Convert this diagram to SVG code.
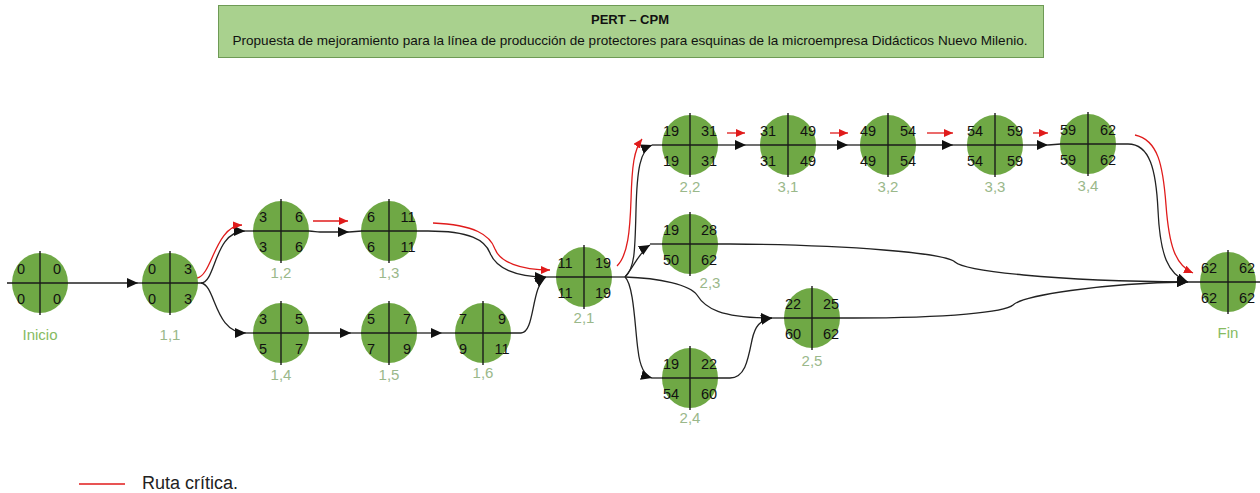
<svg xmlns="http://www.w3.org/2000/svg" width="1260" height="493" viewBox="0 0 1260 493">
  <style>
    .node ellipse { fill: #6fa845; }
    .node line { stroke: #1a1a1a; stroke-width: 1.4; }
    .num { font-family: "Liberation Sans", Arial, sans-serif; font-size: 14.5px; fill: #111; text-anchor: middle; }
    .lbl { font-family: "Liberation Sans", Arial, sans-serif; font-size: 15px; fill: #9ab88a; text-anchor: middle; }
    .lbl-end { font-family: "Liberation Sans", Arial, sans-serif; font-size: 15px; fill: #86bb62; text-anchor: middle; }
    .edge { fill: none; stroke: #222; stroke-width: 1.3; }
    .edge-arrow { marker-end: url(#ah); }
    .crit { fill: none; stroke: #e01b1b; stroke-width: 1.3; marker-end: url(#ahr); }
    .title { font-family: "Liberation Sans", Arial, sans-serif; font-size: 13px; fill: #111; text-anchor: middle; }
  </style>
  <defs>
    <marker id="ah" markerUnits="userSpaceOnUse" markerWidth="12" markerHeight="10" refX="11" refY="5" orient="auto">
      <path d="M0,0 L11,5 L0,10 Z" fill="#111"/>
    </marker>
    <marker id="ahr" markerUnits="userSpaceOnUse" markerWidth="10" markerHeight="8" refX="9" refY="4" orient="auto">
      <path d="M0,0 L9,4 L0,8 Z" fill="#e01b1b"/>
    </marker>
  </defs>

  <rect width="1260" height="493" fill="#ffffff"/>

  <!-- Title banner -->
  <g id="title">
    <rect x="218.5" y="5.5" width="825" height="52" fill="#a9d18e" stroke="#6e9a55" stroke-width="1"/>
    <text class="title" x="630" y="24" font-weight="bold">PERT – CPM</text>
    <text class="title" x="630" y="45" textLength="795" lengthAdjust="spacingAndGlyphs">Propuesta de mejoramiento para la línea de producción de protectores para esquinas de la microempresa Didácticos Nuevo Milenio.</text>
  </g>

  <!-- Connectors -->
  <g id="connectors">
    <!-- Inicio -> 1,1 -->
    <path class="edge edge-arrow" d="M68,283 H138"/>
    <line class="edge" x1="138" y1="283" x2="142" y2="283"/>
    <!-- 1,1 -> 1,2 -->
    <path class="edge edge-arrow" d="M198,283 H201 C216,283 214,231 245,231"/>
    <line class="edge" x1="245" y1="231" x2="254" y2="231"/>
    <path class="crit" d="M197,278 C212,276 215,226 242,225"/>
    <!-- 1,1 -> 1,4 -->
    <path class="edge edge-arrow" d="M201,283 C216,285 214,333 246,333"/>
    <line class="edge" x1="246" y1="333" x2="254" y2="333"/>
    <!-- 1,2 -> 1,3 -->
    <path class="edge edge-arrow" d="M309,231 C314,231 316,232 320,232 H349"/>
    <line class="edge" x1="349" y1="232" x2="362" y2="231"/>
    <path class="crit" d="M313,221 H348"/>
    <!-- 1,3 -> 2,1 -->
    <path class="edge edge-arrow" d="M417,231 H428 C470,231 485,240 490,253 C496,268 515,277 546,277"/>
    <line class="edge" x1="546" y1="277" x2="557" y2="277"/>
    <path class="crit" d="M433,223 C475,225 490,235 495,249 C500,262 520,270 550,270"/>
    <!-- 1,4 -> 1,5 -->
    <path class="edge edge-arrow" d="M309,333 H351"/>
    <line class="edge" x1="351" y1="333" x2="362" y2="333"/>
    <!-- 1,5 -> 1,6 -->
    <path class="edge edge-arrow" d="M417,333 H442"/>
    <line class="edge" x1="442" y1="333" x2="456" y2="333"/>
    <!-- 1,6 -> 2,1 -->
    <path class="edge edge-arrow" d="M511,333 H521 C535,333 531,286 546,277"/>
    <!-- 2,1 split point -->
    <line class="edge" x1="612" y1="277" x2="625" y2="277"/>
    <!-- 2,1 -> 2,2 -->
    <path class="edge edge-arrow" d="M625,277 C635,268 635,250 636,210 C637,170 640,150 652,145"/>
    <line class="edge" x1="652" y1="145" x2="663" y2="145"/>
    <path class="crit" d="M617,266 C628,255 630,230 631,200 C632,165 634,150 642,139"/>
    <!-- 2,1 -> 2,3 -->
    <path class="edge edge-arrow" d="M625,277 C633,268 640,251 650,245"/>
    <line class="edge" x1="650" y1="244" x2="663" y2="244"/>
    <!-- 2,1 -> 2,5 -->
    <path class="edge edge-arrow" d="M625,277 C660,278 690,285 697,295 C705,308 720,318 772,318"/>
    <line class="edge" x1="772" y1="318" x2="785" y2="318"/>
    <!-- 2,1 -> 2,4 -->
    <path class="edge edge-arrow" d="M625,277 C634,285 635,330 638,350 C640,368 645,376 652,378"/>
    <line class="edge" x1="652" y1="378" x2="663" y2="378"/>
    <!-- 2,4 -> 2,5 -->
    <path class="edge edge-arrow" d="M718,378 H730 C745,378 748,360 752,340 C755,326 760,320 772,318"/>
    <!-- 2,2 -> 3,1 -->
    <path class="edge edge-arrow" d="M718,145 H746"/>
    <line class="edge" x1="746" y1="145" x2="761" y2="145"/>
    <path class="crit" d="M727,133 H745"/>
    <!-- 3,1 -> 3,2 -->
    <path class="edge edge-arrow" d="M816,145 H848"/>
    <line class="edge" x1="848" y1="145" x2="861" y2="145"/>
    <path class="crit" d="M830,133 H848"/>
    <!-- 3,2 -> 3,3 -->
    <path class="edge edge-arrow" d="M916,145 H953"/>
    <line class="edge" x1="953" y1="145" x2="968" y2="145"/>
    <path class="crit" d="M927,133 H953"/>
    <!-- 3,3 -> 3,4 -->
    <path class="edge edge-arrow" d="M1023,145 H1048"/>
    <line class="edge" x1="1048" y1="145" x2="1061" y2="144"/>
    <path class="crit" d="M1033,133 H1048"/>
    <!-- 3,4 -> Fin -->
    <path class="edge edge-arrow" d="M1116,144 H1128 C1150,144 1156,170 1158,210 C1160,255 1168,275 1188,282"/>
    <path class="crit" d="M1135,135 C1158,140 1163,165 1166,205 C1169,245 1175,265 1193,273"/>
    <!-- 2,3 -> Fin -->
    <path class="edge edge-arrow" d="M718,244 H730 C850,245 945,253 955,262 C965,271 1050,281 1188,282"/>
    <!-- 2,5 -> Fin -->
    <path class="edge edge-arrow" d="M840,318 H853 C950,318 1005,312 1013,305 C1022,296 1100,283 1188,282"/>
    <!-- Fin tail -->
    <line class="edge" x1="1188" y1="282" x2="1260" y2="282"/>
  </g>

  <!-- Nodes -->
  <g id="node-inicio" class="node">
    <ellipse cx="40" cy="283" rx="28" ry="30"/>
    <line x1="7" y1="283" x2="68" y2="283"/><line x1="40" y1="251" x2="40" y2="315"/>
    <text class="num" x="21" y="274">0</text><text class="num" x="57" y="274">0</text>
    <text class="num" x="21" y="304">0</text><text class="num" x="57" y="304">0</text>
    <text class="lbl-end" x="40" y="340">Inicio</text>
  </g>
  <g id="node-1-1" class="node">
    <ellipse cx="170" cy="283" rx="28" ry="30"/>
    <line x1="142" y1="283" x2="198" y2="283"/><line x1="170" y1="251" x2="170" y2="315"/>
    <text class="num" x="152" y="274">0</text><text class="num" x="188" y="274">3</text>
    <text class="num" x="152" y="304">0</text><text class="num" x="188" y="304">3</text>
    <text class="lbl" x="170" y="340">1,1</text>
  </g>
  <g id="node-1-2" class="node">
    <ellipse cx="281" cy="231" rx="28" ry="30"/>
    <line x1="253" y1="231" x2="309" y2="231"/><line x1="281" y1="199" x2="281" y2="263"/>
    <text class="num" x="263" y="222">3</text><text class="num" x="299" y="222">6</text>
    <text class="num" x="263" y="252">3</text><text class="num" x="299" y="252">6</text>
    <text class="lbl" x="281" y="278">1,2</text>
  </g>
  <g id="node-1-3" class="node">
    <ellipse cx="389" cy="231" rx="28" ry="30"/>
    <line x1="361" y1="231" x2="417" y2="231"/><line x1="389" y1="199" x2="389" y2="263"/>
    <text class="num" x="371" y="222">6</text><text class="num" x="408" y="222">11</text>
    <text class="num" x="371" y="252">6</text><text class="num" x="408" y="252">11</text>
    <text class="lbl" x="389" y="278">1,3</text>
  </g>
  <g id="node-1-4" class="node">
    <ellipse cx="281" cy="333" rx="28" ry="30"/>
    <line x1="253" y1="333" x2="309" y2="333"/><line x1="281" y1="301" x2="281" y2="365"/>
    <text class="num" x="263" y="324">3</text><text class="num" x="299" y="324">5</text>
    <text class="num" x="263" y="354">5</text><text class="num" x="299" y="354">7</text>
    <text class="lbl" x="281" y="380">1,4</text>
  </g>
  <g id="node-1-5" class="node">
    <ellipse cx="389" cy="333" rx="28" ry="30"/>
    <line x1="361" y1="333" x2="417" y2="333"/><line x1="389" y1="301" x2="389" y2="365"/>
    <text class="num" x="371" y="324">5</text><text class="num" x="407" y="324">7</text>
    <text class="num" x="371" y="354">7</text><text class="num" x="407" y="354">9</text>
    <text class="lbl" x="389" y="380">1,5</text>
  </g>
  <g id="node-1-6" class="node">
    <ellipse cx="483" cy="333" rx="28" ry="30"/>
    <line x1="455" y1="333" x2="511" y2="333"/><line x1="483" y1="301" x2="483" y2="365"/>
    <text class="num" x="463" y="324">7</text><text class="num" x="502" y="324">9</text>
    <text class="num" x="463" y="354">9</text><text class="num" x="502" y="354">11</text>
    <text class="lbl" x="483" y="378">1,6</text>
  </g>
  <g id="node-2-1" class="node">
    <ellipse cx="584" cy="277" rx="28" ry="30"/>
    <line x1="556" y1="277" x2="612" y2="277"/><line x1="584" y1="245" x2="584" y2="309"/>
    <text class="num" x="565" y="268">11</text><text class="num" x="603" y="268">19</text>
    <text class="num" x="565" y="298">11</text><text class="num" x="603" y="298">19</text>
    <text class="lbl" x="584" y="323">2,1</text>
  </g>
  <g id="node-2-2" class="node">
    <ellipse cx="690" cy="145" rx="28" ry="30"/>
    <line x1="662" y1="145" x2="718" y2="145"/><line x1="690" y1="113" x2="690" y2="177"/>
    <text class="num" x="671" y="136">19</text><text class="num" x="709" y="136">31</text>
    <text class="num" x="671" y="166">19</text><text class="num" x="709" y="166">31</text>
    <text class="lbl" x="690" y="192">2,2</text>
  </g>
  <g id="node-3-1" class="node">
    <ellipse cx="788" cy="145" rx="28" ry="30"/>
    <line x1="760" y1="145" x2="816" y2="145"/><line x1="788" y1="113" x2="788" y2="177"/>
    <text class="num" x="768" y="136">31</text><text class="num" x="808" y="136">49</text>
    <text class="num" x="768" y="166">31</text><text class="num" x="808" y="166">49</text>
    <text class="lbl" x="788" y="192">3,1</text>
  </g>
  <g id="node-3-2" class="node">
    <ellipse cx="888" cy="145" rx="28" ry="30"/>
    <line x1="860" y1="145" x2="916" y2="145"/><line x1="888" y1="113" x2="888" y2="177"/>
    <text class="num" x="868" y="136">49</text><text class="num" x="908" y="136">54</text>
    <text class="num" x="868" y="166">49</text><text class="num" x="908" y="166">54</text>
    <text class="lbl" x="888" y="192">3,2</text>
  </g>
  <g id="node-3-3" class="node">
    <ellipse cx="995" cy="145" rx="28" ry="30"/>
    <line x1="967" y1="145" x2="1023" y2="145"/><line x1="995" y1="113" x2="995" y2="177"/>
    <text class="num" x="975" y="136">54</text><text class="num" x="1015" y="136">59</text>
    <text class="num" x="975" y="166">54</text><text class="num" x="1015" y="166">59</text>
    <text class="lbl" x="995" y="192">3,3</text>
  </g>
  <g id="node-3-4" class="node">
    <ellipse cx="1088" cy="144" rx="28" ry="30"/>
    <line x1="1060" y1="144" x2="1116" y2="144"/><line x1="1088" y1="112" x2="1088" y2="176"/>
    <text class="num" x="1068" y="135">59</text><text class="num" x="1108" y="135">62</text>
    <text class="num" x="1068" y="165">59</text><text class="num" x="1108" y="165">62</text>
    <text class="lbl" x="1088" y="191">3,4</text>
  </g>
  <g id="node-2-3" class="node">
    <ellipse cx="690" cy="244" rx="28" ry="30"/>
    <line x1="662" y1="244" x2="718" y2="244"/><line x1="690" y1="212" x2="690" y2="276"/>
    <text class="num" x="671" y="235">19</text><text class="num" x="709" y="235">28</text>
    <text class="num" x="671" y="265">50</text><text class="num" x="709" y="265">62</text>
    <text class="lbl" x="710" y="288">2,3</text>
  </g>
  <g id="node-2-4" class="node">
    <ellipse cx="690" cy="378" rx="28" ry="30"/>
    <line x1="662" y1="378" x2="718" y2="378"/><line x1="690" y1="346" x2="690" y2="410"/>
    <text class="num" x="671" y="369">19</text><text class="num" x="709" y="369">22</text>
    <text class="num" x="671" y="399">54</text><text class="num" x="709" y="399">60</text>
    <text class="lbl" x="690" y="423">2,4</text>
  </g>
  <g id="node-2-5" class="node">
    <ellipse cx="812" cy="318" rx="28" ry="30"/>
    <line x1="784" y1="318" x2="840" y2="318"/><line x1="812" y1="286" x2="812" y2="350"/>
    <text class="num" x="793" y="309">22</text><text class="num" x="831" y="309">25</text>
    <text class="num" x="793" y="339">60</text><text class="num" x="831" y="339">62</text>
    <text class="lbl" x="812" y="366">2,5</text>
  </g>
  <g id="node-fin" class="node">
    <ellipse cx="1228" cy="282" rx="28" ry="30"/>
    <line x1="1200" y1="282" x2="1256" y2="282"/><line x1="1228" y1="250" x2="1228" y2="314"/>
    <text class="num" x="1209" y="273">62</text><text class="num" x="1247" y="273">62</text>
    <text class="num" x="1209" y="303">62</text><text class="num" x="1247" y="303">62</text>
    <text class="lbl-end" x="1228" y="338">Fin</text>
  </g>

  <!-- Legend -->
  <g id="legend">
    <line x1="79" y1="484" x2="125" y2="484" stroke="#e01b1b" stroke-width="1.6"/>
    <text x="142" y="489" font-family="'Liberation Sans', Arial, sans-serif" font-size="18" fill="#222">Ruta crítica.</text>
  </g>
</svg>
